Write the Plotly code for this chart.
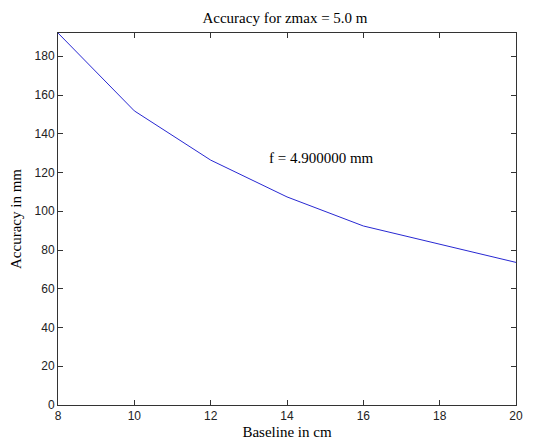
import plotly.graph_objects as go

baseline_cm = [8, 10, 12, 14, 16, 18, 20]
accuracy_mm = [192.0, 151.8, 126.4, 107.4, 92.4, 82.9, 73.6]
x_ticks = [8, 10, 12, 14, 16, 18, 20]
y_ticks = [0, 20, 40, 60, 80, 100, 120, 140, 160, 180]

serif = "Liberation Serif, Times New Roman, serif"
sans = "Liberation Sans, Arial, sans-serif"

# the page body has an 8px default margin, so the figure is sized to fit inside it
W, H = 529, 434

fig = go.Figure()
fig.add_trace(go.Scatter(x=baseline_cm, y=accuracy_mm, mode="lines",
                         line=dict(color="rgb(40,40,210)", width=1),
                         showlegend=False, hoverinfo="skip", cliponaxis=False))

fig.add_annotation(x=13.48, y=127.4, text="f = 4.900000 mm", showarrow=False,
                   xanchor="left", yanchor="middle",
                   font=dict(family=serif, size=15, color="black"))

axis_common = dict(showgrid=False, zeroline=False, showline=True, linecolor="#333",
                   linewidth=1, mirror="ticks", ticks="inside", ticklen=5,
                   tickcolor="#333", automargin=False,
                   tickfont=dict(family=sans, size=12, color="#222"))

fig.update_layout(
    width=W, height=H,
    margin=dict(l=50, r=21, t=25, b=37),
    paper_bgcolor="white", plot_bgcolor="white",
    title=dict(text="Accuracy for zmax = 5.0 m", x=277 / W, xanchor="center",
               y=1 - 10 / H, yanchor="middle", automargin=False,
               font=dict(family=serif, size=15, color="black")),
    xaxis=dict(range=[8, 20], tickvals=x_ticks,
               title=dict(text="Baseline in cm", standoff=4,
                          font=dict(family=serif, size=15, color="black")),
               **axis_common),
    yaxis=dict(range=[0, 192], tickvals=y_ticks,
               title=dict(text="Accuracy in mm", standoff=11,
                          font=dict(family=serif, size=15, color="black")),
               **axis_common),
)

fig.write_html("out.html")
